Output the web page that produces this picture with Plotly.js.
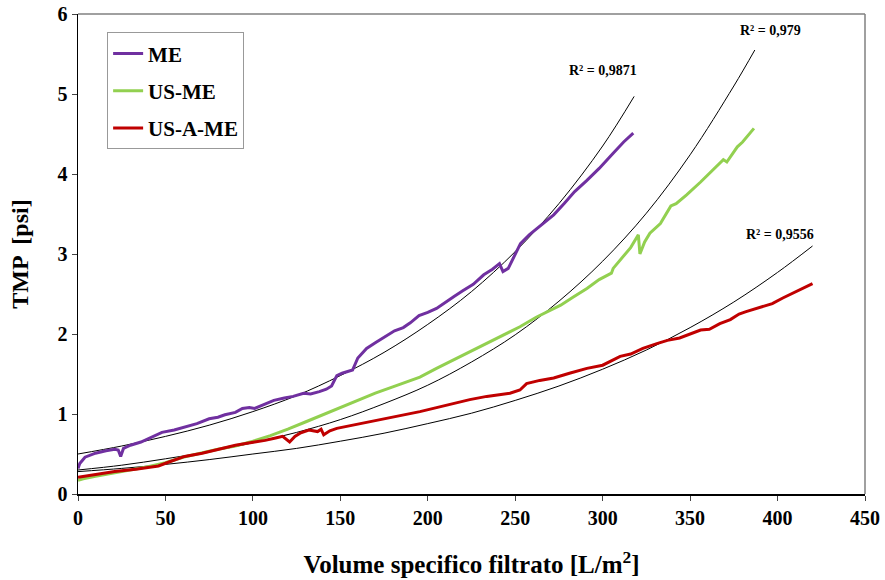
<!DOCTYPE html>
<html>
<head>
<meta charset="utf-8">
<script src="https://cdn.plot.ly/plotly-3.0.1.min.js"></script>
<style>html,body{margin:0;padding:0;background:#fff;}#chart{width:885px;height:580px;}</style>
</head>
<body>
<div id="chart"></div>
<script>
// ---- data ----
const meX = [0,1,4,10,16,21,23,24.4,26,30,36,42,48,55,61,68,75,80,84,90,94,98,101,104,108,112,118,123,129,133,138,142,145,148,151,154,157,160,165,170,176,181,186,190,195,200,205,210,215,220,226,232,237,241,243,246,250,253,258,263,268,272,278,284,291,298,306,312,317.5];
const meY = [0.32,0.38,0.46,0.51,0.54,0.56,0.55,0.47,0.57,0.61,0.65,0.71,0.77,0.80,0.84,0.88,0.94,0.96,0.99,1.02,1.07,1.08,1.07,1.10,1.13,1.17,1.20,1.22,1.26,1.25,1.28,1.31,1.35,1.48,1.51,1.53,1.55,1.70,1.82,1.89,1.97,2.04,2.08,2.14,2.23,2.27,2.32,2.40,2.47,2.54,2.62,2.74,2.81,2.88,2.78,2.82,3.00,3.13,3.24,3.33,3.43,3.49,3.63,3.78,3.92,4.07,4.26,4.40,4.51];

const usX = [0,3,10,20,30,40,50,60,70,80,90,100,110,120,130,140,150,160,170,180,190,195.5,205,214.6,224,233.7,243,252.7,262,270,276,283,291,298,303,305,306,310,316,320.4,321.3,324,327,333,339,342,348,356,363,369,371,377,380,384,386.5];
const usY = [0.17,0.19,0.22,0.26,0.30,0.34,0.39,0.46,0.51,0.56,0.60,0.66,0.73,0.81,0.90,0.99,1.08,1.17,1.26,1.34,1.42,1.46,1.57,1.675,1.78,1.88,1.98,2.09,2.21,2.29,2.36,2.46,2.57,2.68,2.73,2.76,2.82,2.93,3.08,3.24,3.00,3.15,3.26,3.38,3.60,3.63,3.74,3.90,4.05,4.18,4.15,4.34,4.40,4.50,4.57];

const usaX = [0,3,10,21,33,46,52,61,71,80,90,101,107,113,117,121,124,127,132,137,139,140.5,144,148,155,161,170,180,190,195.5,205,214.6,224,233.7,240,247,252.7,256.5,264,272,281,291,300,305,310,316,323,331,337,344,350,356,361,367,373,378,382,388,392,397,403,408,413,416,420];
const usaY = [0.21,0.22,0.25,0.28,0.31,0.35,0.40,0.47,0.51,0.56,0.61,0.65,0.67,0.70,0.72,0.65,0.72,0.76,0.80,0.78,0.81,0.74,0.79,0.82,0.85,0.88,0.92,0.96,1.00,1.03,1.08,1.13,1.18,1.22,1.24,1.26,1.30,1.38,1.42,1.45,1.51,1.57,1.61,1.66,1.72,1.75,1.82,1.88,1.92,1.95,2.00,2.05,2.06,2.13,2.18,2.25,2.28,2.32,2.34,2.38,2.45,2.50,2.56,2.58,2.63];

// trendlines
const fitMeX = [0,25,50,75,100,125,150,175,200,225,250,275,300,318];
const fitMeY = [0.50,0.60,0.72,0.86,1.03,1.23,1.48,1.77,2.12,2.53,3.03,3.63,4.35,4.97];
const fitUsX = [0,25,50,75,100,125,150,175,200,225,250,275,300,325,350,375,387];
const fitUsY = [0.30,0.36,0.44,0.53,0.64,0.77,0.93,1.13,1.36,1.65,1.99,2.41,2.91,3.51,4.24,5.10,5.55];
const fitUsaX = [0,25,50,75,100,125,150,175,200,225,250,275,300,325,350,375,400,420];
const fitUsaY = [0.28,0.32,0.37,0.43,0.50,0.57,0.66,0.76,0.88,1.01,1.17,1.35,1.56,1.80,2.08,2.40,2.77,3.10];

const seriesNames = ["ME","US-ME","US-A-ME"];
const r2Labels = ["R\u00b2 = 0,9871","R\u00b2 = 0,979","R\u00b2 = 0,9556"];
const r2X = [300,396,401.5];
const r2Y = [5.3,5.79,3.24];

const xTicks = [0,50,100,150,200,250,300,350,400,450];
const yTicks = [0,1,2,3,4,5,6];

const FONT = "Liberation Serif, Times New Roman, serif";

function dataTrace(x,y,name,color,grp){
  return {x:x,y:y,type:'scatter',mode:'lines',name:name,legendgroup:grp,
    line:{color:color,width:3}};
}
function fitTrace(x,y){
  return {x:x,y:y,type:'scatter',mode:'lines',showlegend:false,hoverinfo:'skip',
    line:{color:'#000',width:1,shape:'spline'}};
}

const traces = [
  fitTrace(fitMeX,fitMeY),
  fitTrace(fitUsX,fitUsY),
  fitTrace(fitUsaX,fitUsaY),
  dataTrace(meX,meY,seriesNames[0],'#7030A0','a'),
  dataTrace(usX,usY,seriesNames[1],'#92D050','b'),
  dataTrace(usaX,usaY,seriesNames[2],'#C00000','c')
];

const annotations = r2Labels.map((t,i)=>({
  x:r2X[i],y:r2Y[i],xref:'x',yref:'y',text:t,showarrow:false,
  font:{family:FONT,size:14,color:'#000',weight:'bold'}
}));

const layout = {
  width:885,height:580,
  margin:{l:78,r:20,t:14,b:86},
  paper_bgcolor:'#fff',plot_bgcolor:'#fff',
  font:{family:FONT,color:'#000'},
  showlegend:true,
  legend:{x:0.037,y:0.962,xanchor:'left',yanchor:'top',
    bordercolor:'#999',borderwidth:1,bgcolor:'#fff',
    traceorder:'grouped',tracegroupgap:7,itemwidth:30,
    font:{family:FONT,size:21,color:'#000',weight:'bold'}},
  xaxis:{range:[0,450],tickvals:xTicks,
    showgrid:false,zeroline:false,showline:true,linecolor:'#000',linewidth:1.5,
    ticks:'outside',ticklen:5,tickcolor:'#444',tickwidth:1,
    tickfont:{family:FONT,size:20,color:'#000',weight:'bold'},
    title:{text:'Volume specifico filtrato [L/m<sup>2</sup>]',font:{family:FONT,size:25,color:'#000',weight:'bold'},standoff:28}},
  yaxis:{range:[0,6],tickvals:yTicks,
    showgrid:false,zeroline:false,showline:true,linecolor:'#000',linewidth:1.5,
    ticks:'outside',ticklen:5,tickcolor:'#444',tickwidth:1,
    tickfont:{family:FONT,size:20,color:'#000',weight:'bold'},
    title:{text:'TMP  [psi]',font:{family:FONT,size:24,color:'#000',weight:'bold'},standoff:22}},
  shapes:[
    {type:'line',xref:'paper',yref:'paper',x0:0,x1:1,y0:1,y1:1,line:{color:'#808080',width:1.5}},
    {type:'line',xref:'paper',yref:'paper',x0:1,x1:1,y0:0,y1:1,line:{color:'#808080',width:1.5}}
  ],
  annotations:annotations
};

Plotly.newPlot('chart',traces,layout,{displayModeBar:false,staticPlot:true});
</script>
</body>
</html>
